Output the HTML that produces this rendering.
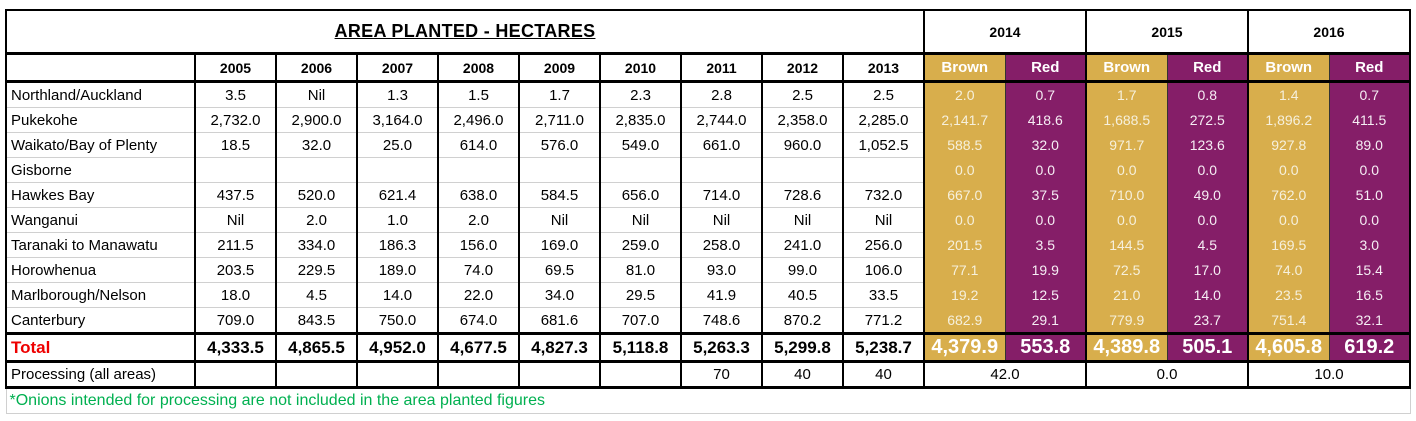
<!DOCTYPE html>
<html><head><meta charset="utf-8"><style>
body{margin:0;background:#fff;width:1416px;height:421px;overflow:hidden;}
table{position:absolute;left:5px;top:9px;border-collapse:collapse;table-layout:fixed;font-family:"Liberation Sans",sans-serif;}
td{padding:0;text-align:center;white-space:nowrap;overflow:hidden;font-size:15px;color:#000;border-left:2px solid #000;border-right:2px solid #000;border-top:1px solid #d0d0d0;border-bottom:1px solid #d0d0d0;}
td.l{text-align:left;padding-left:4px;border-left:2px solid #000;}
tr.d td{height:24px;}
tr.h td{height:25px;font-weight:bold;font-size:14px;border-top:3px solid #000;border-bottom:3px solid #000;}
tr.t td{height:41px;border-top:2px solid #000;}
.b{background:#d8ae4c;color:#f6f0dc;font-size:14px;border-right:1px solid #333;}
.r{background:#851e68;color:#f6eef4;font-size:14px;border-left:1px solid #333;}
tr.d td.b,tr.d td.r{border-top:none;border-bottom:none;}
tr.h td.b,tr.h td.r{color:#fff;font-size:15px;}
tr.tot td{height:25px;font-weight:bold;font-size:17px;border-top:3px solid #000;border-bottom:3px solid #000;}
tr.tot td.b,tr.tot td.r{font-size:20px;color:#fff;}
tr.p td{height:23px;border-bottom:3px solid #000;}
tr.f td{height:24px;text-align:left;color:#00b050;font-size:16px;padding-left:3px;border:1px solid #d0d0d0;}
</style></head><body>
<table>
<colgroup><col style="width:189px"><col span="9" style="width:81px"><col span="6" style="width:81px"></colgroup>
<tr class="t"><td colspan="10" style="font-weight:bold;font-size:18px;letter-spacing:0.3px;text-decoration:underline;">AREA PLANTED - HECTARES</td><td colspan="2" style="font-weight:bold;font-size:14px">2014</td><td colspan="2" style="font-weight:bold;font-size:14px">2015</td><td colspan="2" style="font-weight:bold;font-size:14px">2016</td></tr>
<tr class="h"><td class="l"></td><td>2005</td><td>2006</td><td>2007</td><td>2008</td><td>2009</td><td>2010</td><td>2011</td><td>2012</td><td>2013</td><td class="b">Brown</td><td class="r">Red</td><td class="b">Brown</td><td class="r">Red</td><td class="b">Brown</td><td class="r">Red</td></tr>
<tr class="d"><td class="l">Northland/Auckland</td><td>3.5</td><td>Nil</td><td>1.3</td><td>1.5</td><td>1.7</td><td>2.3</td><td>2.8</td><td>2.5</td><td>2.5</td><td class="b">2.0</td><td class="r">0.7</td><td class="b">1.7</td><td class="r">0.8</td><td class="b">1.4</td><td class="r">0.7</td></tr>
<tr class="d"><td class="l">Pukekohe</td><td>2,732.0</td><td>2,900.0</td><td>3,164.0</td><td>2,496.0</td><td>2,711.0</td><td>2,835.0</td><td>2,744.0</td><td>2,358.0</td><td>2,285.0</td><td class="b">2,141.7</td><td class="r">418.6</td><td class="b">1,688.5</td><td class="r">272.5</td><td class="b">1,896.2</td><td class="r">411.5</td></tr>
<tr class="d"><td class="l">Waikato/Bay of Plenty</td><td>18.5</td><td>32.0</td><td>25.0</td><td>614.0</td><td>576.0</td><td>549.0</td><td>661.0</td><td>960.0</td><td>1,052.5</td><td class="b">588.5</td><td class="r">32.0</td><td class="b">971.7</td><td class="r">123.6</td><td class="b">927.8</td><td class="r">89.0</td></tr>
<tr class="d"><td class="l">Gisborne</td><td></td><td></td><td></td><td></td><td></td><td></td><td></td><td></td><td></td><td class="b">0.0</td><td class="r">0.0</td><td class="b">0.0</td><td class="r">0.0</td><td class="b">0.0</td><td class="r">0.0</td></tr>
<tr class="d"><td class="l">Hawkes Bay</td><td>437.5</td><td>520.0</td><td>621.4</td><td>638.0</td><td>584.5</td><td>656.0</td><td>714.0</td><td>728.6</td><td>732.0</td><td class="b">667.0</td><td class="r">37.5</td><td class="b">710.0</td><td class="r">49.0</td><td class="b">762.0</td><td class="r">51.0</td></tr>
<tr class="d"><td class="l">Wanganui</td><td>Nil</td><td>2.0</td><td>1.0</td><td>2.0</td><td>Nil</td><td>Nil</td><td>Nil</td><td>Nil</td><td>Nil</td><td class="b">0.0</td><td class="r">0.0</td><td class="b">0.0</td><td class="r">0.0</td><td class="b">0.0</td><td class="r">0.0</td></tr>
<tr class="d"><td class="l">Taranaki to Manawatu</td><td>211.5</td><td>334.0</td><td>186.3</td><td>156.0</td><td>169.0</td><td>259.0</td><td>258.0</td><td>241.0</td><td>256.0</td><td class="b">201.5</td><td class="r">3.5</td><td class="b">144.5</td><td class="r">4.5</td><td class="b">169.5</td><td class="r">3.0</td></tr>
<tr class="d"><td class="l">Horowhenua</td><td>203.5</td><td>229.5</td><td>189.0</td><td>74.0</td><td>69.5</td><td>81.0</td><td>93.0</td><td>99.0</td><td>106.0</td><td class="b">77.1</td><td class="r">19.9</td><td class="b">72.5</td><td class="r">17.0</td><td class="b">74.0</td><td class="r">15.4</td></tr>
<tr class="d"><td class="l">Marlborough/Nelson</td><td>18.0</td><td>4.5</td><td>14.0</td><td>22.0</td><td>34.0</td><td>29.5</td><td>41.9</td><td>40.5</td><td>33.5</td><td class="b">19.2</td><td class="r">12.5</td><td class="b">21.0</td><td class="r">14.0</td><td class="b">23.5</td><td class="r">16.5</td></tr>
<tr class="d"><td class="l">Canterbury</td><td>709.0</td><td>843.5</td><td>750.0</td><td>674.0</td><td>681.6</td><td>707.0</td><td>748.6</td><td>870.2</td><td>771.2</td><td class="b">682.9</td><td class="r">29.1</td><td class="b">779.9</td><td class="r">23.7</td><td class="b">751.4</td><td class="r">32.1</td></tr>
<tr class="tot"><td class="l" style="color:#e00;">Total</td><td>4,333.5</td><td>4,865.5</td><td>4,952.0</td><td>4,677.5</td><td>4,827.3</td><td>5,118.8</td><td>5,263.3</td><td>5,299.8</td><td>5,238.7</td><td class="b">4,379.9</td><td class="r">553.8</td><td class="b">4,389.8</td><td class="r">505.1</td><td class="b">4,605.8</td><td class="r">619.2</td></tr>
<tr class="p"><td class="l">Processing (all areas)</td><td></td><td></td><td></td><td></td><td></td><td></td><td>70</td><td>40</td><td>40</td><td colspan="2">42.0</td><td colspan="2">0.0</td><td colspan="2">10.0</td></tr>
<tr class="f"><td colspan="16">*Onions intended for processing are not included in the area planted figures</td></tr>
</table>
</body></html>
